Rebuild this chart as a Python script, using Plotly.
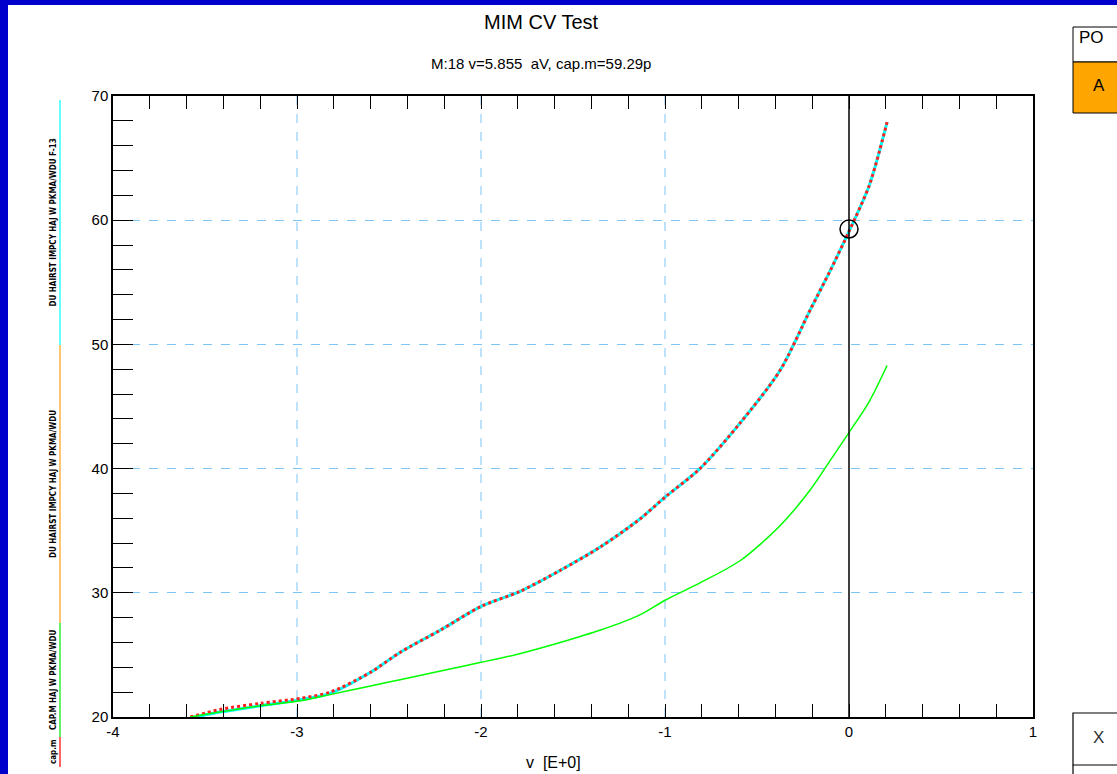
import plotly.graph_objects as go

# ---- data ----
v_main = [-3.58, -3.42, -3.20, -2.98, -2.82, -2.60, -2.44, -2.22, -2.00, -1.79, -1.57,
          -1.35, -1.14, -1.00, -0.81, -0.59, -0.375, -0.21, -0.10, 0.00, 0.11, 0.207]
cap_red = [20.0, 20.6, 21.1, 21.5, 22.0, 23.6, 25.2, 27.0, 28.9, 30.1, 31.8,
           33.7, 35.9, 37.7, 40.0, 43.7, 47.9, 52.8, 56.0, 59.1, 62.8, 67.9]
cap_cyan = [19.9, 20.4, 20.9, 21.4, 21.9, 23.6, 25.2, 27.0, 28.9, 30.1, 31.8,
            33.7, 35.9, 37.7, 40.0, 43.7, 47.9, 52.8, 56.0, 59.1, 62.8, 67.9]
cap_green = [20.0, 20.4, 20.9, 21.3, 21.8, 22.5, 23.0, 23.7, 24.4, 25.1, 26.0,
             27.0, 28.2, 29.4, 30.8, 32.6, 35.4, 38.3, 40.7, 42.9, 45.4, 48.3]
marker_v = [0.0]
marker_cap = [59.29]

x_ticks = [-4, -3, -2, -1, 0, 1]
y_ticks = [20, 30, 40, 50, 60, 70]

legend_texts = ["cap.m", "CAP.M HAJ W PKMA/WDU", "DU HAIRST IMPCY HAJ W PKMA/WDU",
                "DU HAIRST IMPCY HAJ W PKMA/WDU F-13"]
legend_colors = ["#FF3030", "#33EE33", "#FFB040", "#33FFFF"]

W, H = 1117, 774
L, R, T, B = 113, 1033, 96, 717

def px(xp):
    return (xp - L) / (R - L)

def py(yp):
    return (B - yp) / (B - T)

FONT = "Liberation Sans"
GRID = "#7CC4F2"

fig = go.Figure()
fig.add_trace(go.Scatter(x=v_main, y=cap_cyan, mode="lines",
                         line=dict(color="#00FFFF", width=3, shape="spline", smoothing=0.8), showlegend=False))
fig.add_trace(go.Scatter(x=v_main, y=cap_red, mode="lines",
                         line=dict(color="#FF2020", width=3, dash="3px,3px", shape="spline", smoothing=0.8),
                         showlegend=False))
fig.add_trace(go.Scatter(x=v_main, y=cap_green, mode="lines",
                         line=dict(color="#00FF00", width=1.5, shape="spline", smoothing=0.8), showlegend=False))
fig.add_trace(go.Scatter(x=marker_v, y=marker_cap, mode="markers",
                         marker=dict(symbol="circle-open", size=18, color="black",
                                     line=dict(width=1.5, color="black")), showlegend=False))

shapes = []
for xv in x_ticks[1:-1]:
    if xv != 0:
        shapes.append(dict(type="line", xref="x", yref="paper", x0=xv, x1=xv, y0=0, y1=1, layer="below",
                           line=dict(color=GRID, width=1, dash="dash")))
shapes.append(dict(type="line", xref="x", yref="paper", x0=0, x1=0, y0=0, y1=1,
                   line=dict(color="black", width=1.5)))
shapes.append(dict(type="rect", xref="paper", yref="paper", x0=px(0), x1=px(W), y0=py(0), y1=py(5),
                   fillcolor="#0000CC", line=dict(width=0), layer="above"))
shapes.append(dict(type="rect", xref="paper", yref="paper", x0=px(0), x1=px(8), y0=py(0), y1=py(H),
                   fillcolor="#0000CC", line=dict(width=0), layer="above"))
shapes.append(dict(type="rect", xref="paper", yref="paper", x0=px(1073), x1=px(1125), y0=py(27), y1=py(62),
                   fillcolor="white", line=dict(color="black", width=1)))
shapes.append(dict(type="rect", xref="paper", yref="paper", x0=px(1073), x1=px(1125), y0=py(62), y1=py(113),
                   fillcolor="#FFA500", line=dict(color="black", width=1)))
shapes.append(dict(type="rect", xref="paper", yref="paper", x0=px(1073), x1=px(1125), y0=py(713), y1=py(765),
                   fillcolor="white", line=dict(color="black", width=1.2)))
shapes.append(dict(type="line", xref="paper", yref="paper", x0=px(1073), x1=px(1073), y0=py(765), y1=py(780),
                   line=dict(color="black", width=1.2)))
seg_bounds = [(737, 767), (623, 737), (345, 623), (100, 345)]
for c, (y0, y1) in zip(legend_colors, seg_bounds):
    shapes.append(dict(type="line", xref="paper", yref="paper", x0=px(60), x1=px(60), y0=py(y0), y1=py(y1),
                       line=dict(color=c, width=1.5)))

def ann(text, xp, yp, size, color="black", family=FONT, xanchor="center", angle=0):
    return dict(text=text, x=px(xp), y=py(yp), xref="paper", yref="paper", showarrow=False,
                xanchor=xanchor, yanchor="middle", textangle=angle,
                font=dict(family=family, size=size, color=color))

annotations = [
    ann("MIM CV Test", 541, 22, 20),
    ann("M:18 v=5.855  aV, cap.m=59.29p", 541, 64, 15),
    ann("v  [E+0]", 553, 762, 16),
    ann("PO", 1077, 37, 17, xanchor="left"),
    ann("A", 1099, 86, 17),
    ann("X", 1098, 737, 17, color="#333333"),
]
for txt, (y0, y1) in zip(legend_texts, seg_bounds):
    annotations.append(ann("<b>" + txt + "</b>", 53, (y0 + y1) / 2, 8,
                           family="DejaVu Sans Condensed", angle=-90))

fig.update_layout(
    width=W, height=H,
    margin=dict(l=L, r=W - R, t=T, b=H - B, pad=0),
    paper_bgcolor="white", plot_bgcolor="white",
    shapes=shapes, annotations=annotations, showlegend=False,
    xaxis=dict(range=[-4, 1], tickvals=x_ticks, ticktext=[str(v) for v in x_ticks],
               showgrid=False,
               zeroline=False, showline=True, linecolor="black", linewidth=1.5, mirror="ticks",
               ticks="inside", ticklen=13, tickcolor="black", tickwidth=1.2,
               minor=dict(dtick=0.2, ticks="inside", ticklen=13, tickcolor="black", tickwidth=1.2, showgrid=False),
               tickfont=dict(family=FONT, size=15, color="black")),
    yaxis=dict(range=[20, 70], tickvals=y_ticks, ticktext=[str(v) for v in y_ticks],
               showgrid=True, gridcolor=GRID, griddash="dash", gridwidth=1,
               zeroline=False, showline=True, linecolor="black", linewidth=1.5, mirror=True,
               ticks="inside", ticklen=20, tickcolor="black", tickwidth=1.2,
               minor=dict(dtick=2, ticks="inside", ticklen=20, tickcolor="black", tickwidth=1.2, showgrid=False),
               tickfont=dict(family=FONT, size=15, color="black")),
)

fig.write_html("out.html", config={"displayModeBar": False},
               post_script="document.body.style.margin='0';document.body.style.overflow='hidden';")
